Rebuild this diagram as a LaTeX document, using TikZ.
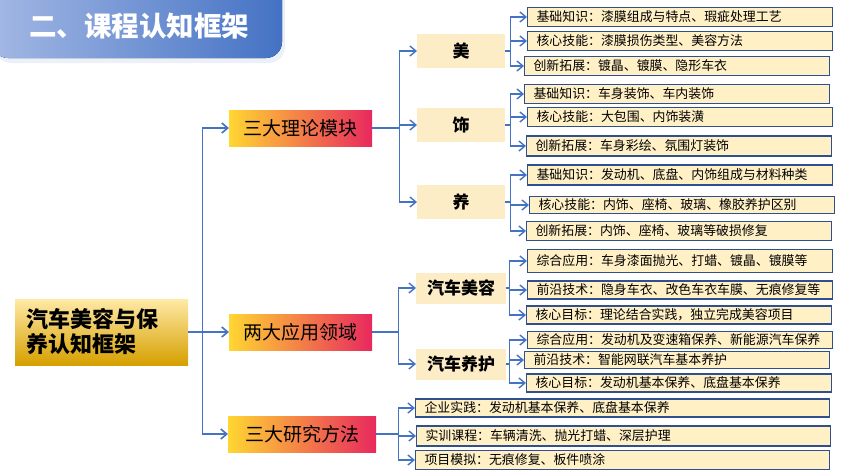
\documentclass[tikz,border=0pt]{standalone}
\usepackage{fontspec}
\setmainfont{Noto Sans CJK SC}
\usepackage{tikz}
\usetikzlibrary{positioning, arrows.meta, shadows}
\definecolor{linkblue}{HTML}{4472C4}
\definecolor{leafedge}{HTML}{2F4F8F}
\definecolor{leaffill}{HTML}{FFF0C6}
\definecolor{topicfill}{HTML}{FDEDC6}
\definecolor{titlelight}{HTML}{A3B8E4}

\begin{document}
\begin{tikzpicture}[x=1pt, y=-1pt,
		conn/.style={draw=linkblue, line width=1.4pt, -{Straight Barb[length=6pt,width=10pt]}},
		leaf/.style={draw=leafedge, line width=1.1pt, fill=leaffill, anchor=west, minimum height=19pt,
			text width=287pt, inner xsep=9pt, inner ysep=0pt, align=left, font=\fontsize{12.9}{14}\selectfont},
		wideleaf/.style={leaf, text width=396pt},
		topic/.style={fill=topicfill, anchor=west, minimum width=88pt, minimum height=34pt,
			font=\fontsize{17}{20}\selectfont\bfseries},
		module/.style={anchor=west, minimum width=143pt, minimum height=36pt, inner sep=0pt,
			left color={rgb,255:red,255;green,214;blue,50}, middle color={rgb,255:red,245;green,160;blue,96},
			right color={rgb,255:red,232;green,40;blue,94}, font=\fontsize{19}{22}\selectfont}]
	\useasboundingbox (0,0) rectangle (845,475);
	% heading
	\fill[left color=titlelight, right color=linkblue, rounded corners=16pt,
		drop shadow={shadow xshift=3pt, shadow yshift=-5pt, opacity=.2, fill=linkblue!50}]
		(-8,-20) rectangle (282,58);
	\node (heading) at (139,26) [text=white, font=\fontsize{27.5}{30}\selectfont\bfseries] {二、课程认知框架};
	% root
	\node (root) [anchor=west, minimum width=173pt, minimum height=66pt, text width=151pt, inner xsep=11pt,
		align=left, top color={rgb,255:red,255;green,233;blue,166}, middle color={rgb,255:red,255;green,192;blue,0},
		bottom color={rgb,255:red,214;green,160;blue,0}, font=\fontsize{22}{25}\selectfont\bfseries]
		at (15,332) {汽车美容与保\\养认知框架};
	% modules
	\node (theory) [module] at (229,128) {三大理论模块};
	\node (apply) [module] at (229,332) {两大应用领域};
	\node (method) [module, minimum width=148pt] at (228,434) {三大研究方法};
	\foreach \m in {theory, apply, method}
		\draw [conn, line width=1.6pt] (root.east) -- ++(14,0) |- (\m.west);
	% theory topics
	\node (mei) [topic] at (417,51) {美};
	\node (shi) [topic] at (417,125) {饰};
	\node (yang) [topic] at (417,202) {养};
	\foreach \t in {mei, shi, yang}
		\draw [conn] (theory.east) -- ++(27,0) |- (\t.west);
	\node (mei a) [leaf] at (527,17) {基础知识：漆膜组成与特点、瑕疵处理工艺};
	\node (mei b) [leaf] at (527,41) {核心技能：漆膜损伤类型、美容方法};
	\node (mei c) [leaf] at (524,66) {创新拓展：镀晶、镀膜、隐形车衣};
	\node (shi a) [leaf] at (524,94) {基础知识：车身装饰、车内装饰};
	\node (shi b) [leaf] at (527,117) {核心技能：大包围、内饰装潢};
	\node (shi c) [leaf, minimum height=20pt] at (526,146) {创新拓展：车身彩绘、氛围灯装饰};
	\node (yang a) [leaf, minimum height=20pt] at (527,175) {基础知识：发动机、底盘、内饰组成与材料种类};
	\node (yang b) [leaf, minimum height=17pt] at (529,205) {核心技能：内饰、座椅、玻璃、橡胶养护区别};
	\node (yang c) [leaf] at (526,231) {创新拓展：内饰、座椅、玻璃等破损修复};
	\foreach \t in {mei, shi, yang}
		\foreach \l in {a, b, c}
			\draw [conn] (\t.east) -- ++(5,0) |- (\t\space\l.west);
	% application topics
	\node (beauty) [topic, minimum width=90pt, minimum height=31pt] at (416,288) {汽车美容};
	\node (care) [topic, minimum width=90pt, minimum height=31pt] at (416,364) {汽车养护};
	\foreach \t in {beauty, care}
		\draw [conn] (apply.east) -- ++(26,0) |- (\t.west);
	\node (beauty a) [leaf, minimum height=23pt] at (527,261) {综合应用：车身漆面抛光、打蜡、镀晶、镀膜等};
	\node (beauty b) [leaf, minimum height=18pt] at (527,290) {前沿技术：隐身车衣、改色车衣车膜、无痕修复等};
	\node (beauty c) [leaf, minimum height=18pt] at (526,315) {核心目标：理论结合实践，独立完成美容项目};
	\node (care a) [leaf, minimum height=17pt] at (527,340) {综合应用：发动机及变速箱保养、新能源汽车保养};
	\node (care b) [leaf, minimum height=17pt] at (524,360) {前沿技术：智能网联汽车基本养护};
	\node (care c) [leaf, minimum height=18pt] at (526,383) {核心目标：发动机基本保养、底盘基本保养};
	\foreach \t in {beauty, care}
		\foreach \l in {a, b, c}
			\draw [conn] (\t.east) -- ++(3,0) |- (\t\space\l.west);
	% methods
	\node (method a) [wideleaf, minimum height=18pt] at (415,408) {企业实践：发动机基本保养、底盘基本保养};
	\node (method b) [wideleaf, minimum height=20pt] at (416,436) {实训课程：车辆清洗、抛光打蜡、深层护理};
	\node (method c) [wideleaf] at (415,460) {项目模拟：无痕修复、板件喷涂};
	\foreach \l in {a, b, c}
		\draw [conn] (method.east) -- ++(22,0) |- (method\space\l.west);
\end{tikzpicture}
\end{document}
